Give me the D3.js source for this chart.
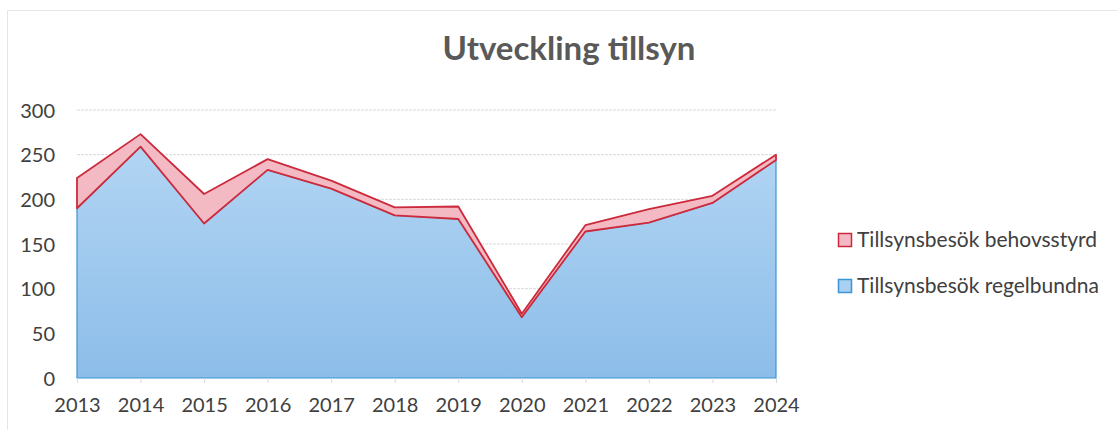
<!DOCTYPE html>
<html>
<head>
<meta charset="utf-8">
<script src="https://cdn.jsdelivr.net/npm/d3@7"></script>
<style>
  body { margin: 0; background: #fff; }
  text { font-family: Lato, "Open Sans", sans-serif; fill: #404040; }
</style>
</head>
<body>
<div id="chart"></div>
<script>
// Data
var years = ["2013", "2014", "2015", "2016", "2017", "2018", "2019", "2020", "2021", "2022", "2023", "2024"];
var regelbundna = [190, 259, 173, 233, 212, 182, 178, 68, 164, 174, 196, 244];
var behovsstyrd = [34, 14, 33, 12, 9, 9, 14, 4, 7, 15, 8, 6];
var yTicks = [0, 50, 100, 150, 200, 250, 300];
var seriesNames = ["Tillsynsbesök behovsstyrd", "Tillsynsbesök regelbundna"];

var W = 1117, H = 430;
var margin = {top: 110, right: 341, bottom: 52, left: 77};
var width = 776 - margin.left;
var height = 378 - margin.top;

var svg = d3.select("#chart").append("svg")
    .attr("width", W)
    .attr("height", H);

// faint outer border
svg.append("rect")
    .attr("x", 7.5).attr("y", 10.5)
    .attr("width", W + 20).attr("height", H + 20)
    .attr("fill", "none")
    .attr("stroke", "#e6e6e6");

var defs = svg.append("defs");
var grad = defs.append("linearGradient")
    .attr("id", "blueGrad")
    .attr("x1", 0).attr("y1", 0).attr("x2", 0).attr("y2", 1);
grad.append("stop").attr("offset", "0%").attr("stop-color", "#b2d5f3");
grad.append("stop").attr("offset", "100%").attr("stop-color", "#8cbde9");

var g = svg.append("g")
    .attr("transform", "translate(" + margin.left + "," + margin.top + ")");

// Scales
var x = d3.scalePoint().domain(years).range([0, width]);
var y = d3.scaleLinear().domain([0, 300]).range([height, 0]);

// Gridlines
g.append("g")
    .selectAll("line")
    .data(yTicks.slice(1))
    .enter()
    .append("line")
    .attr("x1", 0).attr("x2", width)
    .attr("y1", function(d) { return y(d); })
    .attr("y2", function(d) { return y(d); })
    .attr("stroke", "#d9d9d9")
    .attr("stroke-dasharray", "3,1");

// Stacked data
var data = years.map(function(yr, i) {
    return {year: yr, regel: regelbundna[i], total: regelbundna[i] + behovsstyrd[i]};
});

var blueArea = d3.area()
    .x(function(d) { return x(d.year); })
    .y0(y(0))
    .y1(function(d) { return y(d.regel); });

var redArea = d3.area()
    .x(function(d) { return x(d.year); })
    .y0(function(d) { return y(d.regel); })
    .y1(function(d) { return y(d.total); });

g.append("path")
    .datum(data)
    .attr("d", blueArea)
    .attr("fill", "url(#blueGrad)")
    .attr("stroke", "#3b95d4")
    .attr("stroke-width", 1.2);

g.append("path")
    .datum(data)
    .attr("d", redArea)
    .attr("fill", "#f4bac3")
    .attr("stroke", "#cc2a3c")
    .attr("stroke-width", 1.8)
    .attr("stroke-linejoin", "round");

// Axes
var yAxis = g.append("g")
    .call(d3.axisLeft(y).tickValues(yTicks).tickSize(0).tickPadding(22));
yAxis.select(".domain").remove();
yAxis.selectAll("text").style("font-size", "20px").attr("dy", "0.35em");

var xAxis = g.append("g")
    .attr("transform", "translate(0," + height + ")")
    .call(d3.axisBottom(x).tickSize(5).tickPadding(15));
xAxis.select(".domain").remove();
xAxis.selectAll("line").attr("stroke", "#d9d9d9");
xAxis.selectAll("text").style("font-size", "20px");

// Title
svg.append("text")
    .attr("x", 569).attr("y", 60)
    .attr("text-anchor", "middle")
    .style("font-size", "33px")
    .style("font-weight", "bold")
    .style("fill", "#595959")
    .text("Utveckling tillsyn");

// Legend
var legendColors = [["#f4bac3", "#cc2a3c"], ["#a9d0f1", "#3b95d4"]];
var legend = svg.append("g").attr("transform", "translate(838,0)");
seriesNames.forEach(function(name, i) {
    var cy = 240 + i * 46;
    legend.append("rect")
        .attr("x", 0.5).attr("y", cy - 6.5)
        .attr("width", 13).attr("height", 13)
        .attr("fill", legendColors[i][0])
        .attr("stroke", legendColors[i][1])
        .attr("stroke-width", 1.5);
    legend.append("text")
        .attr("x", 19).attr("y", cy)
        .attr("dy", "0.35em")
        .style("font-size", "21px")
        .text(name);
});
</script>
</body>
</html>
